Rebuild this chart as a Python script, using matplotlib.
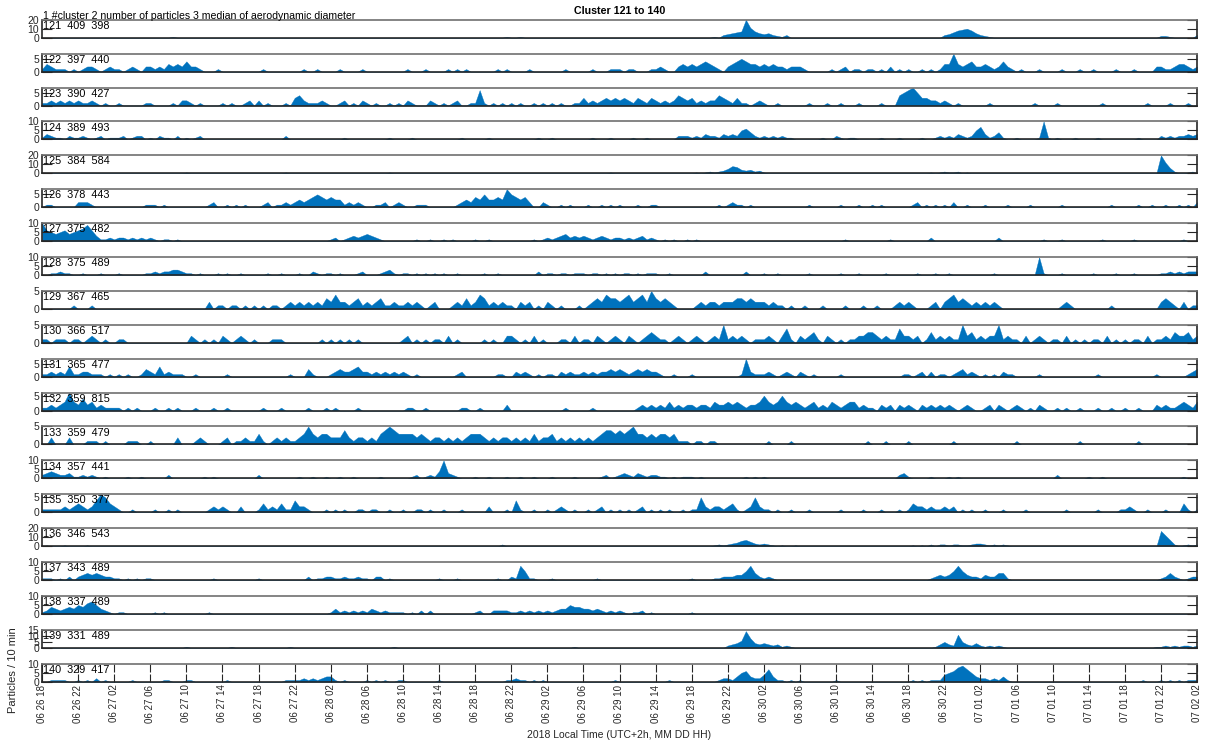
import numpy as np
import matplotlib
matplotlib.use("Agg")
import matplotlib.pyplot as plt
from datetime import datetime, timedelta

plt.rcParams['font.family'] = ['Liberation Sans', 'DejaVu Sans']

# ---------------------------------------------------------------------------
# Data: particle counts per 10 min, sampled every 30 min from 06-26 18:00
# to 07-02 02:00 (257 samples). One character per sample, base-36 digits
# ('a' = 10 ... 'k' = 20); spaces separate 4-hour blocks.
# ---------------------------------------------------------------------------
START = datetime(2018, 6, 26, 18)
SPAN_HOURS = 128
SAMPLE_HOURS = 0.5

cluster_ids = list(range(121, 141))
n_particles = [409, 397, 390, 389, 384, 378, 375, 375, 367, 366,
               365, 359, 359, 357, 350, 346, 343, 337, 331, 329]
median_diam = [398, 440, 427, 493, 584, 443, 482, 489, 465, 517,
               477, 815, 479, 441, 377, 543, 489, 489, 489, 417]
ylim_top = [20, 7, 7, 10, 20, 7, 10, 10, 5, 5, 7, 6, 5, 10, 6, 20, 10, 10, 15, 10]

counts_121 = ("00000000 00000000 00000000 00000100 00000000 00000000 00000000 00000000 "
              "00000000 00000000 00000000 00000000 00000001 00100000 00000000 00000000 "
              "00000000 00000000 00000103 4567kb75 45321300 00000000 00000000 00000000 "
              "00000000 34689a85 32100000 00000000 00000000 00000000 00000000 22100000 3")
counts_122 = ("13211101 01221012 11012102 21213232 42210001 00000000 01000000 00100100 "
              "00100001 00000000 01000100 00101010 00000101 00001000 00001000 00100011 "
              "10110001 12100232 32343210 23454332 32322122 21000001 01201101 10102010 "
              "10010101 33732342 23212421 01000100 00100010 01000010 00100002 21123321 2")
counts_123 = ("11212121 21121010 01000001 10000102 21010000 10100120 20100010 34211121 "
              "00120102 10100101 02100021 01012001 16101010 10100101 01010011 31212323 "
              "23213213 21212432 31212243 21311012 10010000 00100010 01000100 00100045 "
              "67533221 21010000 00100000 00001000 01000000 00010000 00000100 00100010 0")
counts_124 = ("13211021 12101201 11201220 10211020 10120000 00000000 00000020 00000000 "
              "00010000 00000100 00100000 00000100 00010000 00000010 01000000 00100010 "
              "00010010 00000222 12132213 23256421 21212110 00000100 21011000 00100010 "
              "00010012 12132125 73124100 100001a1 01000100 00100000 00010000 21212232 3")
counts_125 = ("00000000 00000000 00000000 00000000 10000000 00000000 00000010 00000000 "
              "00000000 00000100 00000000 00000000 00000000 00000000 00000000 00000010 "
              "00000000 00000000 01012123 58743423 10000000 00000000 00000000 00000000 "
              "00000101 21120100 00000000 00000000 00000000 00000000 00000000 kc620012 0")
counts_126 = ("01100000 22210000 00000001 11010000 00000120 01010100 01201121 23234543 "
              "43312121 00112012 10011100 00001232 43533437 54342002 10010100 01001010 "
              "10001001 10000000 00000010 12110100 00000000 00100000 01000100 10100000 "
              "01201010 10200100 01000010 00010000 00100000 00000100 00010010 01001010 2")
counts_127 = ("a6545645 67963112 12212121 21011010 00000000 00000000 00000000 00000000 "
              "12012323 43210000 00010010 01010000 10010000 00000101 21234232 32123212 "
              "21212312 10101001 01000000 00000000 00000000 00000000 00100000 00001000 "
              "00000200 00000000 00002000 00000010 00100000 00010000 00100000 00000100 0")
counts_128 = ("00112110 01000100 01000001 12122332 11010001 01001000 00100100 01002101 "
              "10100012 00012310 11010101 01001000 00100100 00000020 11011011 10110101 "
              "01101011 10010000 00020000 00002000 10010000 00100000 01000100 00010000 "
              "00100010 01000000 00010000 00000a10 00100000 01000010 00100000 11212122 2")
counts_129 = ("00000001 00010000 00000000 00000000 00000201 10110101 01011012 12121213 "
              "24221231 21231121 12121012 00012131 24312121 10212010 21010001 01232433 "
              "23423425 32321000 01212212 22332322 21211010 01000100 00100010 01000121 "
              "21000120 23423212 12121000 00000000 00121000 00000100 00000000 23210201 1")
counts_130 = ("11011101 10121010 01100000 00000000 02101010 21012101 00011100 00000010 "
              "10101010 00000000 12010101 10201000 00101002 21010201 00011020 11021012 "
              "10210123 21101210 12101215 12121011 12102410 21231021 01011223 32121142 "
              "21201312 12115231 21225121 10201210 11020101 01102010 10110201 12132231 2")
counts_131 = ("11212141 12211101 01010013 21412111 00100000 01000000 00000001 00031000 "
              "12322342 21212121 21010000 00001200 00000110 02121010 11021211 21212232 "
              "32123232 21001000 10000000 00017211 12101210 21010000 01000000 00000001 "
              "10120201 10123121 01010211 00000100 00000000 00100000 00000001 00000012 3")
counts_132 = ("11212363 24231211 11010100 01001010 00100010 01000000 01000100 00010001 "
              "01000010 00000000 01100100 00000110 01000002 00000000 00001000 00100000 "
              "00001212 12131212 21221322 32321223 53235323 21231213 21233121 10212021 "
              "21021212 12101210 01202101 21010210 01010010 00100100 10010002 12112321 3")
counts_133 = ("00200020 00111010 00011100 10000020 00121000 12011211 31012121 12353233 "
              "22242122 12134543 33323212 21212123 33212122 12121312 23121212 12123443 "
              "43453323 23323111 01101100 00000000 01000010 00000000 00000001 00010000 "
              "10000000 00100000 00000000 10000000 00000010 00000000 00010000 00000000 0")
counts_134 = ("23432231 12121010 00010010 00002000 00001010 00000000 20000000 01001001 "
              "00100100 00010000 00120121 4a321000 10010001 00100100 01000010 00001201 "
              "23213212 21101011 10100000 00001010 10000000 00000000 00000000 00000023 "
              "10000100 01010000 00000000 00000000 02000000 10010000 00000000 00000100 0")
counts_135 = ("11111212 32124653 21001000 01001010 00000121 21002000 13121311 42210001 "
              "01010011 01100100 10011010 01000100 00020001 04100100 10121010 01012010 "
              "10101201 01010010 11521221 23101252 11010010 00100000 01000010 00100010 "
              "13221211 21201010 01000100 00100000 00010000 00100001 12100100 01000310 1")
counts_136 = ("01000100 00100000 00000000 00000000 00000000 00000000 00000000 00000000 "
              "00000000 00000000 00000000 00000000 00000020 00000000 00000000 00000000 "
              "00000000 00000000 00000121 23467532 32101001 00000000 00000000 00000000 "
              "01010202 21221123 32121210 00000000 00000000 00000000 00000000 hc720121 2")
counts_137 = ("11101020 23434322 11010101 10000000 00000010 00000000 10000000 00020112 "
              "21121121 10220100 00000000 10001000 00000100 21851100 01000000 00010000 "
              "00000000 00000000 10000112 22335842 12100000 00000000 00000000 00000000 "
              "00000123 23585322 13224410 00000000 00000000 00000000 00000000 12421012 2")
counts_138 = ("12432343 54675321 01100000 01010000 00000100 00000000 00000000 00000000 "
              "13121212 13212111 10102020 00000000 12002222 11212121 21233544 33232121 "
              "21011201 00000000 10000000 00000000 00000000 00000000 00000000 00000000 "
              "00000000 00000000 00000000 00000000 00000000 00000000 00000000 00000000 0")
counts_139 = ("00000000 00000000 00000000 00000000 10000000 00100000 00000001 00000000 "
              "00000000 00000010 00000000 00000000 00000000 00000000 00000010 00000000 "
              "00000000 00000000 00000000 2346e843 43231210 00000000 00000000 00000000 "
              "00000013 532b5324 21212100 00000000 00000000 00000000 00000001 12121221 2")
counts_140 = ("00111100 10102010 00001000 00011000 11000000 01000000 00000011 11212123 "
              "31010000 10101001 10000000 10000000 00000001 12110101 00000000 00000001 "
              "00000000 00010000 00000012 21356322 47311010 10000000 10000000 00000000 "
              "01010111 45689753 22121310 00000000 00000000 00000000 00001000 10101011 1")

series_codes = [counts_121, counts_122, counts_123, counts_124, counts_125,
                counts_126, counts_127, counts_128, counts_129, counts_130,
                counts_131, counts_132, counts_133, counts_134, counts_135,
                counts_136, counts_137, counts_138, counts_139, counts_140]


def decode(code):
    vals = np.array([int(ch, 36) for ch in code.replace(' ', '')], dtype=float)
    assert len(vals) == int(SPAN_HOURS / SAMPLE_HOURS) + 1, len(vals)
    return vals


hours = np.arange(int(SPAN_HOURS / SAMPLE_HOURS) + 1) * SAMPLE_HOURS
tick_hours = np.arange(0, SPAN_HOURS + 1, 4)
tick_labels = [(START + timedelta(hours=int(h))).strftime('%m %d %H') for h in tick_hours]

# ---------------------------------------------------------------------------
# Figure layout (pixel geometry of a 1205 x 741 canvas)
# ---------------------------------------------------------------------------
W, H = 1205, 741
fig = plt.figure(figsize=(W / 100, H / 100), dpi=100)
fig.patch.set_facecolor('white')

AX_LEFT, AX_RIGHT = 42, 1197
FIRST_BOTTOM, PITCH, PANEL_H = 37.7, 33.9, 18.0
FILL = '#0072BD'
AXC = '#262626'
Y_TICK_LEN = 7.5  # points
X_TICK_LEN = 5.5

for i, (cid, npart, med, code) in enumerate(zip(cluster_ids, n_particles, median_diam, series_codes)):
    bottom_px = FIRST_BOTTOM + PITCH * i
    ax = fig.add_axes([AX_LEFT / W, 1 - bottom_px / H,
                       (AX_RIGHT - AX_LEFT) / W, PANEL_H / H])
    y = decode(code)
    ax.fill_between(hours, 0, y, color=FILL, lw=0.25, edgecolor=FILL, zorder=1)
    ax.set_xlim(0, SPAN_HOURS)
    ax.set_ylim(0, ylim_top[i])
    step = 10 if ylim_top[i] >= 20 else 5
    ax.set_yticks(np.arange(0, ylim_top[i] + 0.01, step))
    ax.tick_params(axis='y', which='both', left=True, right=True, direction='in',
                   length=Y_TICK_LEN, width=0.8, color=AXC, labelsize=7.5,
                   labelcolor=AXC, pad=2)
    for side in ('left', 'right', 'bottom'):
        ax.spines[side].set_color(AXC)
        ax.spines[side].set_linewidth(1.2)
    ax.spines['top'].set_color('#707070')
    ax.spines['top'].set_linewidth(1.2)

    if i == len(cluster_ids) - 1:
        ax.set_xticks(tick_hours)
        ax.set_xticklabels(tick_labels, rotation=90, fontsize=7, color=AXC)
        ax.tick_params(axis='x', which='both', top=True, bottom=True, direction='in',
                       length=X_TICK_LEN, width=0.8, color=AXC, pad=2)
    else:
        ax.set_xticks([])

    ax.annotate(f"{cid}  {npart}  {med}", xy=(0, 1), xycoords='axes fraction',
                xytext=(1.0, -0.8), textcoords='offset points',
                ha='left', va='top', fontsize=7.8, color='black', zorder=5)

fig.text(((AX_LEFT + AX_RIGHT) / 2) / W, 1 - 11 / H, 'Cluster 121 to 140',
         ha='center', va='center', fontsize=7.7, fontweight='bold')
fig.text(43 / W, 1 - 19 / H,
         '1 #cluster 2 number of particles 3 median of aerodynamic diameter',
         ha='left', va='baseline', fontsize=7.6)
fig.text(((AX_LEFT + AX_RIGHT) / 2) / W, 1 - 735 / H,
         '2018 Local Time (UTC+2h, MM DD HH)', ha='center', va='center',
         fontsize=7.5, color=AXC)
fig.text(13 / W, 1 - 670 / H, 'Particles / 10 min', rotation=90,
         ha='center', va='center', fontsize=8, color=AXC)

fig.savefig('out.png', dpi=100, facecolor='white')
